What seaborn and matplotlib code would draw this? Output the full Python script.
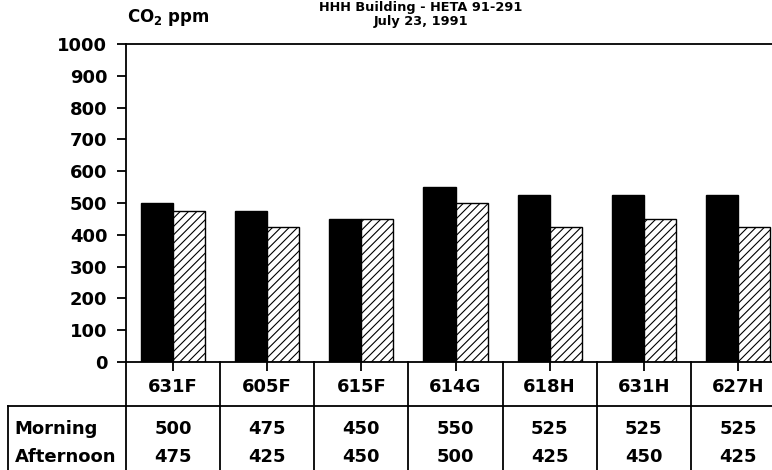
import numpy as np
import pandas as pd
import matplotlib
matplotlib.use("Agg")
import matplotlib.pyplot as plt
import matplotlib.transforms as mtransforms
import seaborn as sns

# data
rooms = ["631F", "605F", "615F", "614G", "618H", "631H", "627H"]
morning = [500, 475, 450, 550, 525, 525, 525]
afternoon = [475, 425, 450, 500, 425, 450, 425]
row_names = ["Morning", "Afternoon"]
yticks = [0, 100, 200, 300, 400, 500, 600, 700, 800, 900, 1000]

plt.rcParams["font.family"] = ["DejaVu Sans"]
plt.rcParams["font.weight"] = "bold"
plt.rcParams["hatch.linewidth"] = 0.8

df = pd.DataFrame({
    "room": rooms * 2,
    "ppm": morning + afternoon,
    "period": ["Morning"] * len(rooms) + ["Afternoon"] * len(rooms),
})

fig = plt.figure(figsize=(7.72, 4.70), dpi=100)
# axes reaches a bit past the right edge, like the original scan
ax = fig.add_axes([126 / 772, 108 / 470, 659 / 772, 318 / 470])

sns.barplot(data=df, x="room", y="ppm", hue="period", order=rooms,
            hue_order=row_names, palette=["black", "white"],
            edgecolor="black", linewidth=1.0, width=0.68,
            legend=False, ax=ax)

for bar in ax.containers[1]:
    bar.set_hatch("////")

ax.set_xlim(-0.5, len(rooms) - 0.5)
ax.set_ylim(0, 1000)
ax.set_yticks(yticks)
ax.set_xlabel("")
ax.set_ylabel("")

for side in ["left", "top", "bottom", "right"]:
    ax.spines[side].set_linewidth(1.3)
    ax.spines[side].set_color("black")

fs = 13
ax.tick_params(axis="y", direction="out", length=6.5, width=1.3, pad=7,
               labelsize=fs)
ax.tick_params(axis="x", direction="out", length=6.5, width=1.3, pad=5,
               labelsize=fs)
for lbl in ax.get_xticklabels() + ax.get_yticklabels():
    lbl.set_fontweight("bold")

# table below the axis
trans = mtransforms.blended_transform_factory(ax.transData, ax.transAxes)
y_bottom = -0.36
y_hline = -0.138
for k in range(len(rooms) + 1):
    ax.plot([k - 0.5, k - 0.5], [0, y_bottom], transform=trans,
            color="black", lw=1.3, clip_on=False)
ax.plot([-0.179, 1.05], [y_hline, y_hline], transform=ax.transAxes,
        color="black", lw=1.3, clip_on=False)
ax.plot([-0.179, -0.179], [y_hline, y_bottom], transform=ax.transAxes,
        color="black", lw=1.3, clip_on=False)

row_y = [-0.211, -0.299]
for name, yy in zip(row_names, row_y):
    ax.text(-0.169, yy, name, transform=ax.transAxes, ha="left",
            va="center", fontsize=fs, fontweight="bold")
for i in range(len(rooms)):
    ax.text(i, row_y[0], str(morning[i]), transform=trans, ha="center",
            va="center", fontsize=fs, fontweight="bold")
    ax.text(i, row_y[1], str(afternoon[i]), transform=trans, ha="center",
            va="center", fontsize=fs, fontweight="bold")

# titles
fig.text(127 / 772, 1 - 18 / 470, r"CO$_\mathbf{2}$ ppm", ha="left",
         va="center", fontsize=12, fontweight="bold")
fig.text(421 / 772, 1 - 8 / 470, "HHH Building - HETA 91-291",
         ha="center", va="center", fontsize=9.3, fontweight="bold")
fig.text(421 / 772, 1 - 22 / 470, "July 23, 1991",
         ha="center", va="center", fontsize=9.3, fontweight="bold")

fig.savefig("out.png", dpi=100)
